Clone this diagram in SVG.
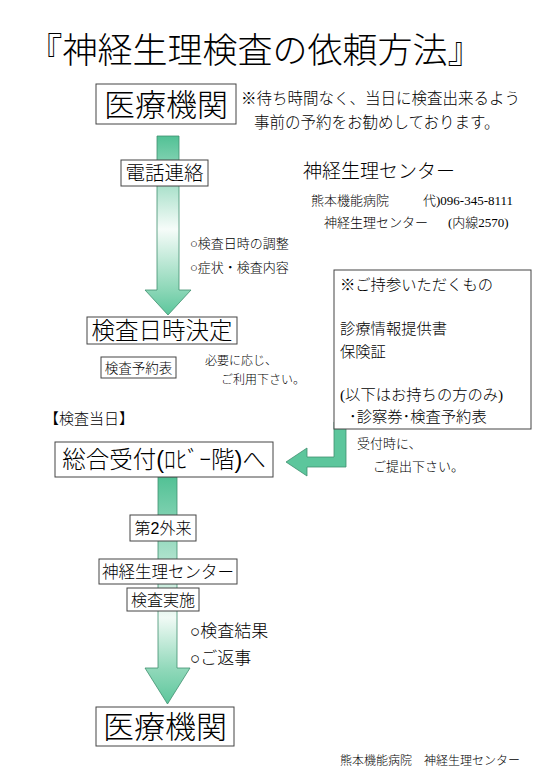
<svg xmlns="http://www.w3.org/2000/svg" width="540" height="780" viewBox="0 0 540 780">
<defs>
<linearGradient id="g1" gradientUnits="userSpaceOnUse" x1="0" y1="136" x2="0" y2="315">
<stop offset="0" stop-color="#52c195"/><stop offset="0.52" stop-color="#f6fcf9"/><stop offset="0.85" stop-color="#8fd8b9"/><stop offset="1" stop-color="#5cc69c"/>
</linearGradient>
<linearGradient id="g2" gradientUnits="userSpaceOnUse" x1="0" y1="477" x2="0" y2="704">
<stop offset="0" stop-color="#52c195"/><stop offset="0.62" stop-color="#f0faf5"/><stop offset="0.85" stop-color="#8fd8b9"/><stop offset="1" stop-color="#5cc69c"/>
</linearGradient>
<style>
.box{fill:#fff;stroke:#444;stroke-width:1}
.arr{stroke:#3f8f6e;stroke-width:0.8}
.sans{font-family:"Liberation Sans","Noto Sans CJK JP",sans-serif;font-weight:300;fill:#000}
.serif{font-family:"Liberation Serif","Noto Sans CJK JP",serif;font-weight:300;fill:#000}
.mid{text-anchor:middle}
</style>
</defs>
<rect width="540" height="780" fill="#fff"/>

<text class="serif mid" x="255" y="63" font-size="35">『神経生理検査の依頼方法』</text>

<g id="connectors">
<path class="arr" fill="url(#g1)" d="M157,136 H179 V290 H191 L168,315 L145,290 H157 Z"/>
<path class="arr" fill="url(#g2)" d="M158,477 H177 V668 H190 L167.5,704 L145,668 H158 Z"/>
<path class="arr" fill="#5cc69c" d="M334,422 H346 V467 H307 V476 L286,462 L307,448 V457 H334 Z"/>
</g>

<g id="iryo-top">
<rect class="box" x="96" y="84" width="140" height="40"/>
<text class="sans mid" x="166" y="116" font-size="31">医療機関</text>
</g>

<g id="note-top">
<text class="serif" x="241" y="104" font-size="15.5">※待ち時間なく、当日に検査出来るよう</text>
<text class="serif" x="254" y="128" font-size="15.5">事前の予約をお勧めしております。</text>
</g>

<g id="denwa">
<rect class="box" x="121" y="160" width="87" height="26"/>
<text class="sans mid" x="164.5" y="180" font-size="19.5">電話連絡</text>
</g>

<g id="center-info">
<text class="sans" x="303" y="178" font-size="19">神経生理センター</text>
<text class="serif" x="311" y="205" font-size="13">熊本機能病院</text>
<text class="serif" x="423" y="205" font-size="13">代)096-345-8111</text>
<text class="serif" x="324" y="227" font-size="13">神経生理センター</text>
<text class="serif" x="448" y="227" font-size="13">(内線2570)</text>
</g>

<g id="denwa-notes">
<text class="serif" x="190" y="248" font-size="13">○検査日時の調整</text>
<text class="serif" x="190" y="272" font-size="13">○症状・検査内容</text>
</g>

<g id="jisan">
<rect class="box" x="334" y="270" width="197" height="159"/>
<text class="serif" x="340" y="290" font-size="15.3">※ご持参いただくもの</text>
<text class="serif" x="340" y="334" font-size="15.3">診療情報提供書</text>
<text class="serif" x="340" y="357" font-size="15.3">保険証</text>
<text class="serif" x="340" y="400" font-size="15.3">(以下はお持ちの方のみ)</text>
<text class="serif" x="349" y="422" font-size="15.3">･診察券･検査予約表</text>
</g>

<g id="kettei">
<rect class="box" x="87" y="317" width="150" height="27"/>
<text class="sans mid" x="162" y="339" font-size="23.5">検査日時決定</text>
</g>

<g id="yoyakuhyo">
<rect class="box" x="101" y="357" width="75" height="21"/>
<text class="serif mid" x="138.5" y="373" font-size="13.5">検査予約表</text>
</g>

<g id="yoyakuhyo-note">
<text class="serif" x="205" y="365" font-size="12">必要に応じ、</text>
<text class="serif" x="221" y="384" font-size="12">ご利用下さい。</text>
</g>

<text class="sans" x="44" y="424" font-size="15">【検査当日】</text>

<g id="uketsuke">
<rect class="box" x="55" y="442" width="218" height="35"/>
<text class="sans mid" x="164" y="468" font-size="23.5">総合受付(ﾛﾋﾞｰ階)へ</text>
</g>

<g id="uketsuke-note">
<text class="serif" x="357" y="448" font-size="13">受付時に、</text>
<text class="serif" x="373" y="471" font-size="13">ご提出下さい。</text>
</g>

<g id="dai2">
<rect class="box" x="130" y="515" width="66" height="26"/>
<text class="sans mid" x="163" y="534" font-size="16">第2外来</text>
</g>

<g id="center-box">
<rect class="box" x="99" y="559" width="138" height="25"/>
<text class="sans mid" x="168" y="578" font-size="16.5">神経生理センター</text>
</g>

<g id="jisshi">
<rect class="box" x="127" y="588" width="72" height="23"/>
<text class="sans mid" x="163" y="605.5" font-size="16">検査実施</text>
</g>

<g id="kekka-notes">
<text class="sans" x="190" y="637" font-size="17">○検査結果</text>
<text class="sans" x="190" y="664" font-size="17">○ご返事</text>
</g>

<g id="iryo-bottom">
<rect class="box" x="96" y="707" width="138" height="39"/>
<text class="sans mid" x="165" y="738" font-size="31">医療機関</text>
</g>

<text class="serif" x="340" y="765" font-size="12">熊本機能病院　神経生理センター</text>
</svg>
